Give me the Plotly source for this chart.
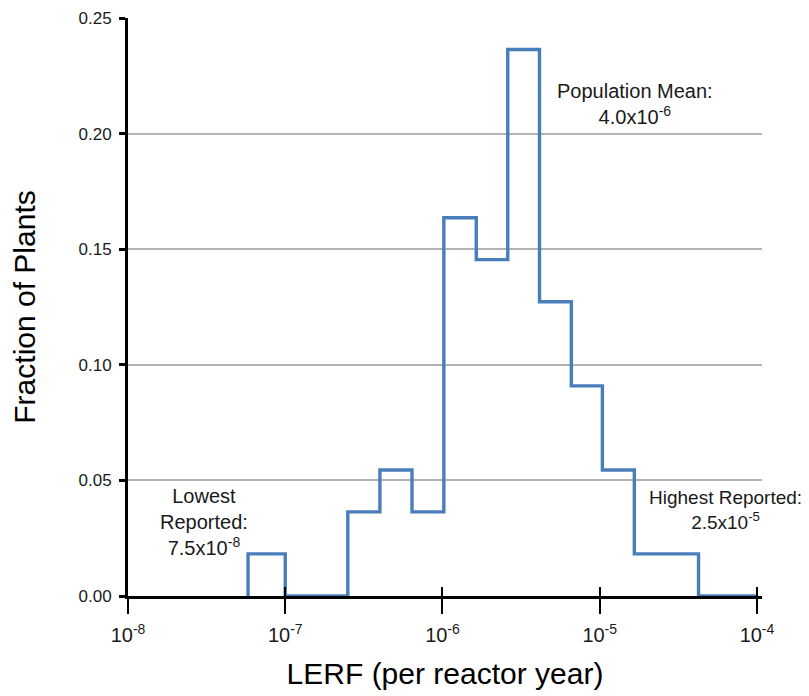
import math
import plotly.graph_objects as go

# Histogram bin edges (per reactor year) and fraction of plants in each bin
bin_edges = [5.8e-8, 1.0e-7, 2.5e-7, 4.0e-7, 6.4e-7, 1.02e-6, 1.64e-6,
             2.6e-6, 4.14e-6, 6.6e-6, 1.04e-5, 1.66e-5, 4.25e-5, 1.0e-4]
fractions = [0.0182, 0.0, 0.0364, 0.0545, 0.0364, 0.1636, 0.1455,
             0.2364, 0.1273, 0.0909, 0.0545, 0.0182, 0.0]

x_tick_vals = [1e-8, 1e-7, 1e-6, 1e-5, 1e-4]
x_tick_text = ["10<sup>-8</sup>", "10<sup>-7</sup>", "10<sup>-6</sup>",
               "10<sup>-5</sup>", "10<sup>-4</sup>"]
y_tick_vals = [0.0, 0.05, 0.10, 0.15, 0.20, 0.25]
y_tick_text = ["0.00", "0.05", "0.10", "0.15", "0.20", "0.25"]

notes = [
    {"text": "Lowest<br>Reported:<br>7.5x10<sup>-8</sup>", "x": 3.05e-8, "y": 0.0318, "size": 20},
    {"text": "Population Mean:<br>4.0x10<sup>-6</sup>", "x": 1.68e-5, "y": 0.2127, "size": 20},
    {"text": "Highest Reported:<br>2.5x10<sup>-5</sup>", "x": 6.3e-5, "y": 0.0371, "size": 19},
]

# step path: start at zero on the first edge, then follow each bin
step_x = [bin_edges[0]] + bin_edges
step_y = [0.0] + fractions + [fractions[-1]]

FONT = "Liberation Sans, Arial, sans-serif"
BLUE = "#4A7EBB"

fig = go.Figure()
fig.add_trace(go.Scatter(x=step_x, y=step_y, mode="lines",
                         line=dict(color=BLUE, width=3.4, shape="hv"),
                         hoverinfo="skip", showlegend=False))
# invisible copy on an overlaying axis, used only to draw upward tick marks
fig.add_trace(go.Scatter(x=step_x, y=step_y, mode="lines", xaxis="x2",
                         line=dict(color="rgba(0,0,0,0)", width=0),
                         hoverinfo="skip", showlegend=False))

xr = [-8, -3.968]
fig.update_layout(
    width=809, height=696,
    margin=dict(l=120, r=55, t=10, b=108),
    paper_bgcolor="white", plot_bgcolor="white",
    font=dict(family=FONT, color="#000000"),
    showlegend=False,
    xaxis=dict(type="log", range=xr, tickvals=x_tick_vals, ticktext=x_tick_text,
               automargin=False,
               showgrid=False, zeroline=False,
               showline=True, linecolor="#000000", linewidth=3,
               ticks="outside", ticklen=15, tickwidth=2, tickcolor="#000000",
               ticklabelstandoff=4,
               tickfont=dict(size=20, family=FONT, color="#1a1a1a"),
               title=dict(text="LERF (per reactor year)",
                          font=dict(size=30, family=FONT, color="#000000"),
                          standoff=18)),
    xaxis2=dict(type="log", range=xr, overlaying="x", anchor="y", side="bottom",
                automargin=False,
                tickvals=x_tick_vals, showticklabels=False, showgrid=False,
                zeroline=False, showline=False,
                ticks="inside", ticklen=9, tickwidth=2, tickcolor="#000000"),
    yaxis=dict(range=[0, 0.25], tickvals=y_tick_vals, ticktext=y_tick_text,
               automargin=False,
               showgrid=True, gridcolor="#B3B3B3", gridwidth=2,
               zeroline=False,
               showline=True, linecolor="#000000", linewidth=3,
               ticks="outside", ticklen=6, tickwidth=3, tickcolor="#000000",
               ticklabelstandoff=4,
               tickfont=dict(size=17, family=FONT, color="#1a1a1a"),
               title=dict(text="Fraction of Plants",
                          font=dict(size=30, family=FONT, color="#000000"),
                          standoff=38)),
)

for n in notes:
    fig.add_annotation(x=math.log10(n["x"]), y=n["y"],
                       xref="x", yref="y", text=n["text"], showarrow=False,
                       align="center", xanchor="center", yanchor="middle",
                       font=dict(size=n["size"], family=FONT, color="#1a1a1a"))

fig.write_html("out.html")
